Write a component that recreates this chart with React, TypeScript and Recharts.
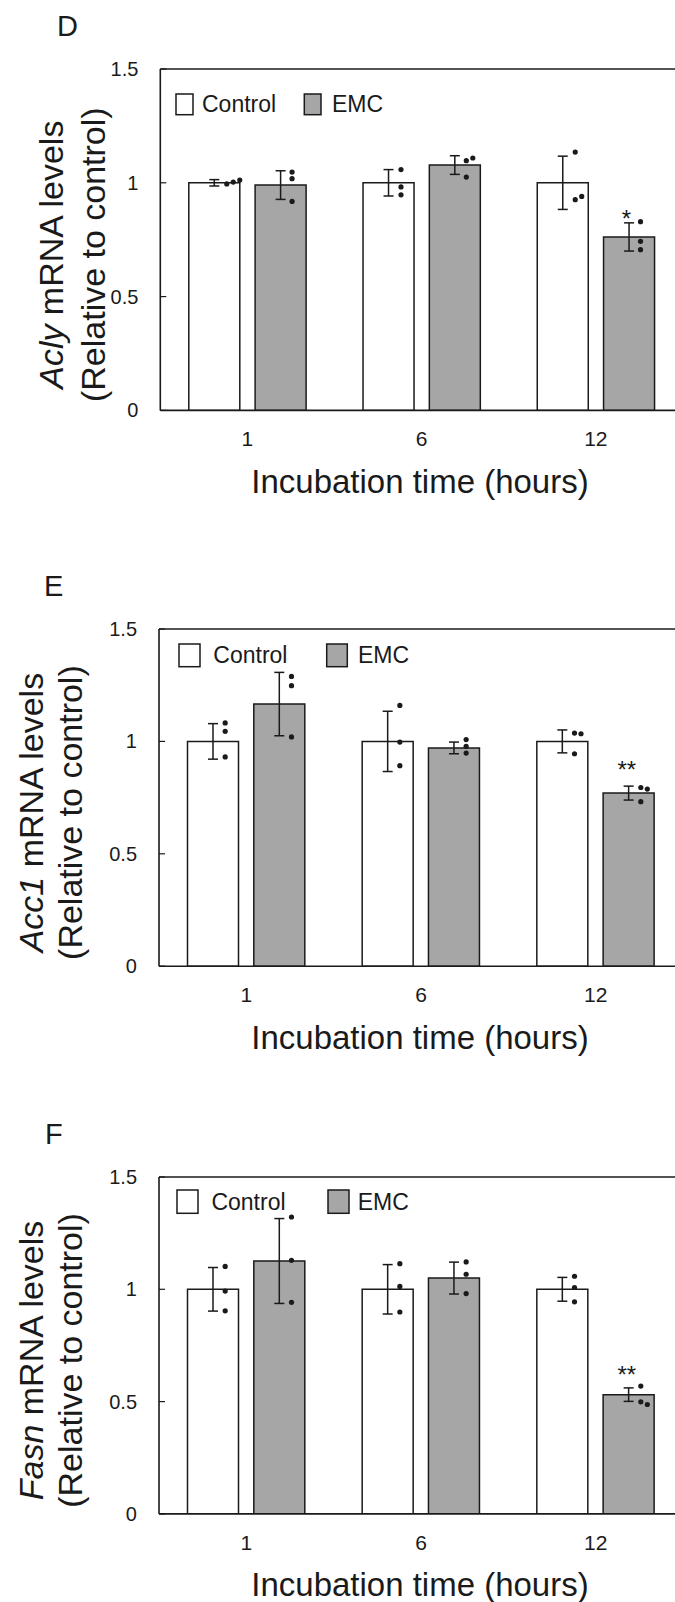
import React from 'react';
import { ComposedChart, Bar, Line, XAxis, YAxis, ErrorBar, ReferenceLine, Legend } from 'recharts';

const HOURS = ['1', '6', '12'];
const Y_TICKS = [0, 0.5, 1, 1.5];
const SERIES_NAMES = ['Control', 'EMC'];
const X_TITLE = 'Incubation time (hours)';
const Y_TITLE_REST = ' mRNA levels';
const Y_TITLE_2 = '(Relative to control)';

// D: Acly
const ACLY_CTRL = [1.0, 1.0, 1.0];
const ACLY_CTRL_SE = [0.014, 0.058, 0.117];
const ACLY_EMC = [0.99, 1.078, 0.762];
const ACLY_EMC_SE = [0.063, 0.041, 0.062];
const ACLY_CTRL_DOTS = [[0.995, 1.003, 1.012], [1.058, 0.982, 0.947], [1.135, 0.926, 0.94]];
const ACLY_EMC_DOTS = [[1.047, 1.018, 0.918], [1.097, 1.109, 1.025], [0.829, 0.743, 0.706]];
const ACLY_SIG = ['', '', '*'];

// E: Acc1
const ACC1_CTRL = [1.0, 1.0, 1.0];
const ACC1_CTRL_SE = [0.079, 0.134, 0.051];
const ACC1_EMC = [1.166, 0.971, 0.77];
const ACC1_EMC_SE = [0.141, 0.026, 0.031];
const ACC1_CTRL_DOTS = [[1.082, 1.045, 0.931], [1.16, 0.997, 0.892], [1.037, 1.034, 0.945]];
const ACC1_EMC_DOTS = [[1.289, 1.248, 1.02], [1.008, 0.978, 0.948], [0.795, 0.788, 0.732]];
const ACC1_SIG = ['', '', '**'];

// F: Fasn
const FASN_CTRL = [1.0, 1.0, 1.0];
const FASN_CTRL_SE = [0.097, 0.11, 0.053];
const FASN_EMC = [1.126, 1.05, 0.531];
const FASN_EMC_SE = [0.189, 0.071, 0.03];
const FASN_CTRL_DOTS = [[1.102, 0.992, 0.904], [1.114, 1.013, 0.899], [1.058, 1.008, 0.944]];
const FASN_EMC_DOTS = [[1.322, 1.129, 0.942], [1.122, 1.067, 0.981], [0.569, 0.499, 0.487]];
const FASN_SIG = ['', '', '**'];

const FONT = '"Liberation Sans", Arial, Helvetica, sans-serif';
const INK = '#1a1a1a';
const GRAY = '#a6a6a6';
const CHART_W = 700;
const PLOT_RIGHT = 683;
const TOP_PAD = 70;
const X_AXIS_H = 100;
const CAT_GAP = 28.5;
const BAR_GAP = 15.3;

const panels = [
  {
    letter: 'D', gene: 'Acly', ctrl: ACLY_CTRL, ctrlSe: ACLY_CTRL_SE, emc: ACLY_EMC, emcSe: ACLY_EMC_SE,
    cdots: ACLY_CTRL_DOTS, edots: ACLY_EMC_DOTS, sig: ACLY_SIG,
    plotTop: 69.3, plotH: 341.4, plotLeft: 160.3, letterX: 57, titleX: [63, 105], sigLift: -4.5,
    lg: { x: 175.7, y: 94.3, w: 17, h: 20.7, t1: 201.7, b2: 304, b2w: 16.7, t2: 331.7, base: 112.7 },
  },
  {
    letter: 'E', gene: 'Acc1', ctrl: ACC1_CTRL, ctrlSe: ACC1_CTRL_SE, emc: ACC1_EMC, emcSe: ACC1_EMC_SE,
    cdots: ACC1_CTRL_DOTS, edots: ACC1_EMC_DOTS, sig: ACC1_SIG,
    plotTop: 629.3, plotH: 337.2, plotLeft: 159, letterX: 44, titleX: [43, 82], sigLift: 8.5,
    lg: { x: 179, y: 644, w: 21, h: 22.7, t1: 213.3, b2: 326.7, b2w: 20.6, t2: 358, base: 663.3 },
  },
  {
    letter: 'F', gene: 'Fasn', ctrl: FASN_CTRL, ctrlSe: FASN_CTRL_SE, emc: FASN_EMC, emcSe: FASN_EMC_SE,
    cdots: FASN_CTRL_DOTS, edots: FASN_EMC_DOTS, sig: FASN_SIG,
    plotTop: 1176.7, plotH: 336.9, plotLeft: 159, letterX: 45, titleX: [43, 82], sigLift: 4.5,
    lg: { x: 177.3, y: 1190, w: 21, h: 23.3, t1: 211.7, b2: 328.3, b2w: 21, t2: 358, base: 1209.5 },
  },
];

type Panel = typeof panels[number];

function barOffset(p: Panel) {
  const band = (PLOT_RIGHT - p.plotLeft) / HOURS.length;
  const size = Math.floor((band - 2 * CAT_GAP - BAR_GAP) / 2);
  return (size + BAR_GAP) / 2;
}

const dotShape = (key: 'cdots' | 'edots', k: number, shift: number) => (props: any) => {
  const { cx, cy, payload, index } = props;
  const id = `${key}${k}-${index}`;
  if (cx == null || cy == null) return <g key={id} />;
  const vals: number[] = payload[key];
  let n = 0;
  for (let j = 0; j < k; j++) if (Math.abs(vals[j] - vals[k]) < 0.025) n++;
  return <circle key={id} cx={cx + shift + 12 + n * 6.5} cy={cy} r={2.6} fill={INK} />;
};

const sigShape = (shift: number, lift: number) => (props: any) => {
  const { cx, cy, payload, index } = props;
  if (cx == null || cy == null || !payload.sig) return <g key={`s${index}`} />;
  return (
    <text key={`s${index}`} x={cx + shift - 2} y={cy - lift} textAnchor="middle" fontSize={24} fontFamily={FONT} fill={INK}>
      {payload.sig}
    </text>
  );
};

function PanelChart({ p }: { p: Panel }) {
  const data = HOURS.map((t, i) => ({
    t, ctrl: p.ctrl[i], ctrlSe: p.ctrlSe[i], emc: p.emc[i], emcSe: p.emcSe[i],
    cdots: p.cdots[i], edots: p.edots[i], sig: p.sig[i],
  }));
  const chartTop = p.plotTop - TOP_PAD;
  const height = TOP_PAD + p.plotH + X_AXIS_H;
  const off = barOffset(p);
  const lg = p.lg;

  const yTitle = () => {
    const cy = TOP_PAD + p.plotH / 2 + 15;
    return (
      <g fill={INK} fontFamily={FONT} fontSize={34}>
        <text x={p.titleX[0]} y={cy} transform={`rotate(-90, ${p.titleX[0]}, ${cy})`} textAnchor="middle">
          <tspan fontStyle="italic">{p.gene}</tspan>{Y_TITLE_REST}
        </text>
        <text x={p.titleX[1]} y={cy} transform={`rotate(-90, ${p.titleX[1]}, ${cy})`} textAnchor="middle">
          {Y_TITLE_2}
        </text>
      </g>
    );
  };

  const xTitle = () => (
    <text x={420} y={TOP_PAD + p.plotH + 82.5} textAnchor="middle" fontFamily={FONT} fontSize={33} fill={INK}>
      {X_TITLE}
    </text>
  );

  const legend = () => (
    <svg width={240} height={30} style={{ display: 'block', overflow: 'visible' }}>
      <rect x={0} y={0} width={lg.w} height={lg.h} fill="#fff" stroke={INK} strokeWidth={1.5} />
      <text x={lg.t1 - lg.x} y={lg.base - lg.y} fontFamily={FONT} fontSize={23} fill={INK}>{SERIES_NAMES[0]}</text>
      <rect x={lg.b2 - lg.x} y={0} width={lg.b2w} height={lg.h} fill={GRAY} stroke={INK} strokeWidth={1.5} />
      <text x={lg.t2 - lg.x} y={lg.base - lg.y} fontFamily={FONT} fontSize={23} fill={INK}>{SERIES_NAMES[1]}</text>
    </svg>
  );

  return (
    <div style={{ position: 'absolute', left: 0, top: chartTop, width: CHART_W, height }}>
      <svg width={120} height={TOP_PAD} style={{ position: 'absolute', left: 0, top: 0 }}>
        <text x={p.letterX} y={TOP_PAD - 33.5} fontFamily={FONT} fontSize={29} fill={INK}>{p.letter}</text>
      </svg>
      <ComposedChart
        width={CHART_W}
        height={height}
        data={data}
        margin={{ top: TOP_PAD, right: CHART_W - PLOT_RIGHT, left: p.plotLeft - 60, bottom: 0 }}
        barCategoryGap={CAT_GAP}
        barGap={BAR_GAP}
      >
        <XAxis
          dataKey="t"
          height={X_AXIS_H}
          tickLine={false}
          tickSize={6}
          tickMargin={15}
          axisLine={{ stroke: INK, strokeWidth: 1.6 }}
          tick={{ fill: INK, fontSize: 21, fontFamily: FONT }}
          label={{ content: xTitle }}
        />
        <YAxis
          width={60}
          domain={[0, 1.5]}
          ticks={Y_TICKS}
          allowDataOverflow
          tickSize={-6}
          tickMargin={28}
          tickLine={{ stroke: INK, strokeWidth: 1.2 }}
          axisLine={{ stroke: INK, strokeWidth: 1.6 }}
          tick={{ fill: INK, fontSize: 20, fontFamily: FONT }}
          label={{ content: yTitle }}
        />
        <ReferenceLine y={1.5} stroke={INK} strokeWidth={1.3} />
        <Legend
          layout="horizontal"
          verticalAlign="middle"
          align="center"
          content={legend}
          wrapperStyle={{ left: lg.x, top: lg.y - chartTop, width: 240, height: 30 }}
        />
        <Bar dataKey="ctrl" name={SERIES_NAMES[0]} fill="#fff" stroke={INK} strokeWidth={1.5} isAnimationActive={false}>
          <ErrorBar dataKey="ctrlSe" width={5} stroke={INK} strokeWidth={1.5} />
        </Bar>
        <Bar dataKey="emc" name={SERIES_NAMES[1]} fill={GRAY} stroke={INK} strokeWidth={1.5} isAnimationActive={false}>
          <ErrorBar dataKey="emcSe" width={5} stroke={INK} strokeWidth={1.5} />
        </Bar>
        {[0, 1, 2].map((k) => (
          <Line key={`c${k}`} dataKey={(r: any) => r.cdots[k]} stroke="none" legendType="none"
            dot={dotShape('cdots', k, -off)} activeDot={false} isAnimationActive={false} />
        ))}
        {[0, 1, 2].map((k) => (
          <Line key={`e${k}`} dataKey={(r: any) => r.edots[k]} stroke="none" legendType="none"
            dot={dotShape('edots', k, off)} activeDot={false} isAnimationActive={false} />
        ))}
        <Line dataKey={(r: any) => r.emc + r.emcSe} stroke="none" legendType="none"
          dot={sigShape(off, p.sigLift)} activeDot={false} isAnimationActive={false} />
      </ComposedChart>
    </div>
  );
}

export default function App() {
  return (
    <div style={{ position: 'absolute', left: 0, top: 0, width: 675, height: 1602, overflow: 'hidden', background: '#fff' }}>
      {panels.map((p) => (
        <PanelChart key={p.letter} p={p} />
      ))}
    </div>
  );
}
